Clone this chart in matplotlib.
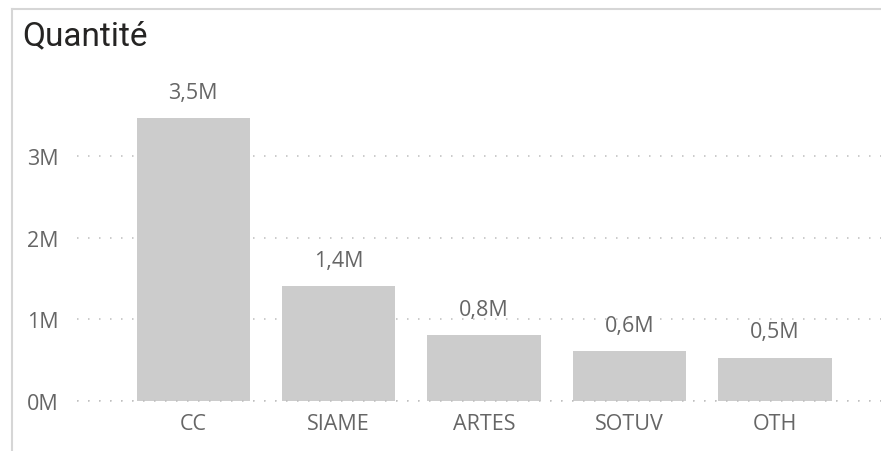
import matplotlib.pyplot as plt
from matplotlib.lines import Line2D

categories = ['CC', 'SIAME', 'ARTES', 'SOTUV', 'OTH']
values = [3.46, 1.41, 0.81, 0.61, 0.53]  # millions
value_labels = ['3,5M', '1,4M', '0,8M', '0,6M', '0,5M']
yticks = [0, 1, 2, 3]
ytick_labels = ['0M', '1M', '2M', '3M']

plt.rcParams['font.family'] = ['Open Sans', 'DejaVu Sans']

W, H = 881, 452
fig = plt.figure(figsize=(W / 100, H / 100), dpi=100)

# axes placed in pixel terms: x from 77 to 881, y from 402 (0M) up to 60
ax = fig.add_axes([77 / W, (H - 402) / H, 1 - 77 / W, (402 - 60) / H])

x = list(range(len(categories)))
ax.bar(x, values, width=0.78, color='#CCCCCC', zorder=2)

for xi, v, lab in zip(x, values, value_labels):
    ax.annotate(lab, (xi, v), xytext=(0, 11), textcoords='offset points',
                ha='center', va='bottom', fontsize=15.5, color='#666666')

ax.set_xlim(-0.80, 4.73)
ax.set_ylim(0, (402 - 60) / 81.7)
ax.set_xticks(x)
ax.set_xticklabels(categories)
ax.set_yticks(yticks)
ax.set_yticklabels(ytick_labels)
ax.tick_params(axis='both', length=0, labelsize=15.5, colors='#666666')
ax.tick_params(axis='y', pad=13)
ax.tick_params(axis='x', pad=9)

ax.grid(axis='y', color='#BDBDBD', linestyle=(0, (1, 6.2)), linewidth=1.1, zorder=0)
ax.axhline(0, color='#BDBDBD', linestyle=(0, (1, 6.2)), linewidth=1.1, zorder=3, clip_on=False)
for s in ax.spines.values():
    s.set_visible(False)

# title and outer frame
fig.text(22 / W, 1 - 36 / H, 'Quantité', fontsize=24, color='#252423',
         family=['Roboto', 'DejaVu Sans'], va='center', ha='left')
fig.add_artist(Line2D([12 / W, 12 / W], [0, 1 - 10 / H], transform=fig.transFigure,
                      color='#D6D6D6', linewidth=1.5))
fig.add_artist(Line2D([12 / W, 1], [1 - 10 / H, 1 - 10 / H], transform=fig.transFigure,
                      color='#D6D6D6', linewidth=1.5))

fig.savefig('out.png', dpi=100)
